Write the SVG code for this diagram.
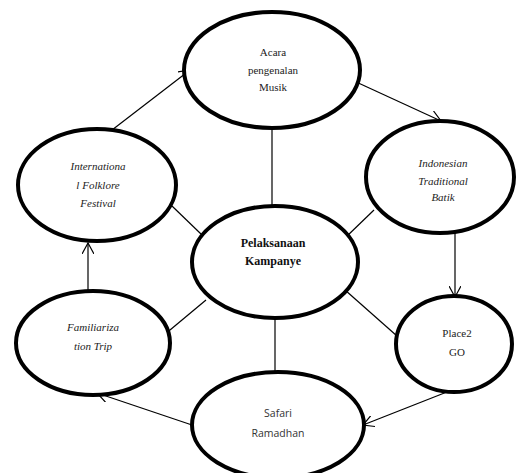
<svg xmlns="http://www.w3.org/2000/svg" width="516" height="473" viewBox="0 0 516 473">
<style>
.n{fill:#fff;stroke:#000;stroke-width:4}
.c{stroke:#000;stroke-width:1.2;fill:none}
.t{font-family:"Liberation Serif",serif;font-size:11px;fill:#222;text-anchor:middle}
.i{font-style:italic}
.b{font-weight:bold;font-size:12px;fill:#111}
.s{font-family:"Open Sans","Liberation Sans",sans-serif;font-size:10.5px;fill:#333;text-anchor:middle}
</style>
<defs>
<marker id="a" viewBox="0 0 12 12" refX="11" refY="6" markerWidth="12" markerHeight="12" markerUnits="userSpaceOnUse" orient="auto">
<path d="M0,0 L11,6 L0,12" fill="none" stroke="#000" stroke-width="1.2"/>
</marker>
</defs>
<g id="connectors">
<line class="c" x1="272" y1="128" x2="272" y2="206"/>
<line class="c" x1="172" y1="206" x2="201" y2="234"/>
<line class="c" x1="374" y1="210" x2="345" y2="238"/>
<line class="c" x1="158" y1="340" x2="206" y2="300"/>
<line class="c" x1="397" y1="336" x2="345" y2="290"/>
<line class="c" x1="275" y1="317" x2="275" y2="373"/>
<line class="c" x1="354" y1="81" x2="441" y2="121" marker-end="url(#a)"/>
<line class="c" x1="455" y1="233" x2="455" y2="297" marker-end="url(#a)"/>
<line class="c" x1="452" y1="390" x2="363" y2="425" marker-end="url(#a)"/>
<line class="c" x1="192" y1="425" x2="97" y2="393" marker-end="url(#a)"/>
<line class="c" x1="88" y1="293" x2="88" y2="243" marker-end="url(#a)"/>
<line class="c" x1="112" y1="130" x2="190" y2="70" marker-end="url(#a)"/>
</g>
<g id="acara">
<ellipse class="n" cx="272" cy="70" rx="88" ry="58"/>
<text class="t" x="273" y="56">Acara</text>
<text class="t" x="273" y="74">pengenalan</text>
<text class="t" x="273" y="91">Musik</text>
</g>
<g id="international">
<ellipse class="n" cx="97" cy="185" rx="79" ry="56"/>
<text class="t i" x="98" y="170">Internationa</text>
<text class="t i" x="98" y="189">l Folklore</text>
<text class="t i" x="98" y="207">Festival</text>
</g>
<g id="indonesian">
<ellipse class="n" cx="440" cy="177" rx="74" ry="56"/>
<text class="t i" x="443" y="167">Indonesian</text>
<text class="t i" x="443" y="185">Traditional</text>
<text class="t i" x="443" y="201">Batik</text>
</g>
<g id="pelaksanaan">
<ellipse class="n" cx="275" cy="262" rx="83" ry="56"/>
<text class="t b" x="273" y="247">Pelaksanaan</text>
<text class="t b" x="273" y="265">Kampanye</text>
</g>
<g id="familiarization">
<ellipse class="n" cx="93" cy="343" rx="77" ry="52"/>
<text class="t i" x="93" y="331">Familiariza</text>
<text class="t i" x="93" y="350">tion Trip</text>
</g>
<g id="place2go">
<ellipse class="n" cx="454" cy="344" rx="58" ry="48"/>
<text class="t" x="457" y="337">Place2</text>
<text class="t" x="457" y="356">GO</text>
</g>
<g id="safari">
<ellipse class="n" cx="278" cy="425" rx="86" ry="53"/>
<text class="s" x="278" y="417">Safari</text>
<text class="s" x="278" y="437">Ramadhan</text>
</g>
</svg>
